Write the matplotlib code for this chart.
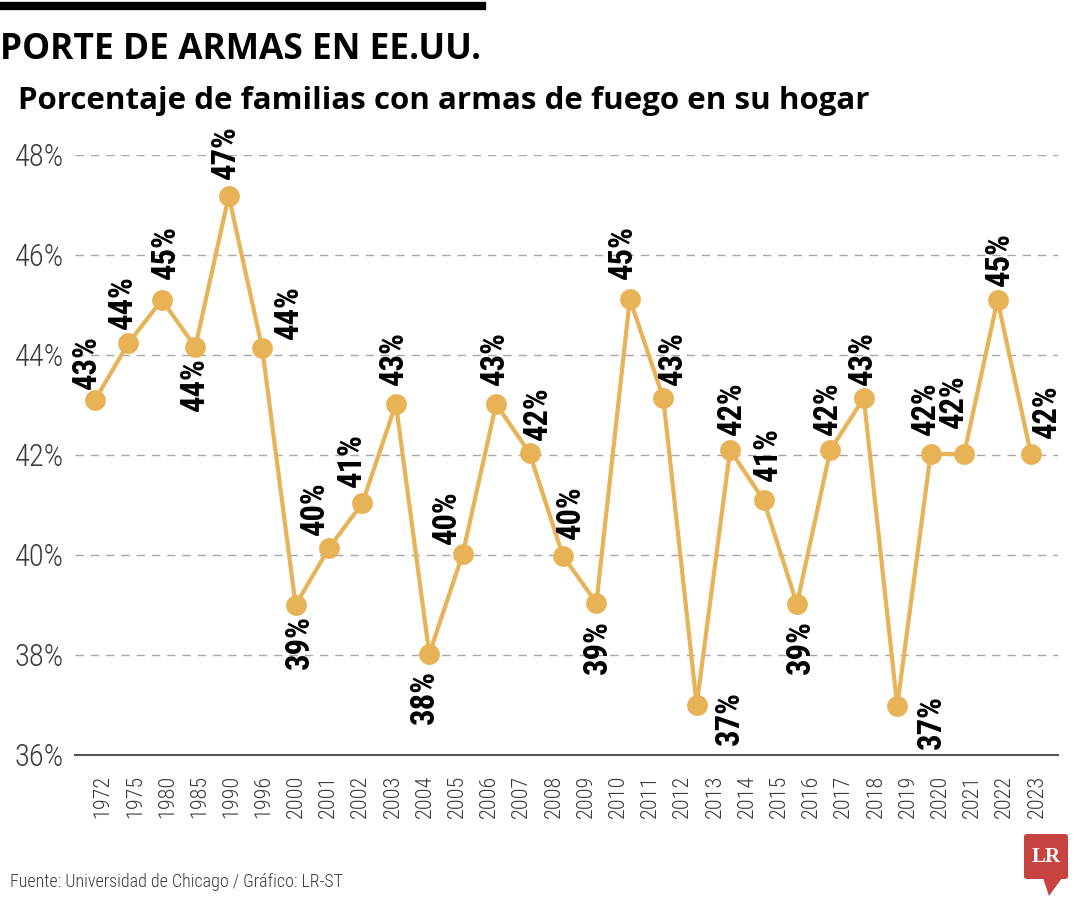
import numpy as np
import matplotlib
matplotlib.use("Agg")
from matplotlib import pyplot as plt
from matplotlib import font_manager
from matplotlib.patches import FancyBboxPatch, Polygon

# data
years = ['1972', '1975', '1980', '1985', '1990', '1996', '2000', '2001', '2002', '2003',
         '2004', '2005', '2006', '2007', '2008', '2009', '2010', '2011', '2012', '2013',
         '2014', '2015', '2016', '2017', '2018', '2019', '2020', '2021', '2022', '2023']
values = [43.1, 44.24, 45.1, 44.16, 47.18, 44.14, 39.0, 40.14, 41.04, 43.02,
          38.02, 40.02, 43.02, 42.04, 39.98, 39.04, 45.12, 43.14, 37.0, 42.1,
          41.1, 39.02, 42.1, 43.14, 36.98, 42.02, 42.02, 45.1, 42.02]
labels = ['43%', '44%', '45%', '44%', '47%', '44%', '39%', '40%', '41%', '43%',
          '38%', '40%', '43%', '42%', '40%', '39%', '45%', '43%', '37%', '42%',
          '41%', '39%', '42%', '43%', '37%', '42%', '42%', '45%', '42%']
y_ticks = [36, 38, 40, 42, 44, 46, 48]

# label offsets from the marker, in pixels (x right, y up)
label_offsets = [(-8, 38), (-6, 41), (4, 48), (0, -37), (-3, 44), (27, 36),
                 (4, -37), (-14, 40), (-11, 43), (-2, 46), (-4, -43), (-16, 37),
                 (-1, 46), (8, 40), (8, 44), (1, -44), (-7, 47), (10, 40),
                 (33, -13), (2, 42), (4, 46), (4, -43), (-3, 42), (-1, 40),
                 (35, -16), (-5, 46), (-10, 53), (2, 41), (16, 43)]

LINE_COLOR = '#E8B257'
GRID_COLOR = '#a8a8a8'

installed = {f.name for f in font_manager.fontManager.ttflist}


def pick(*names):
    for n in names:
        if n in installed:
            return n
    return 'DejaVu Sans'


NARROW = pick('Liberation Sans Narrow', 'DejaVu Sans Condensed', 'Roboto Condensed', 'Liberation Sans')
HEAD = pick('Open Sans', 'Noto Sans', 'Lato')

fig = plt.figure(figsize=(10.8, 9), dpi=100)
ax = fig.add_axes([75 / 1080, 1 - 755 / 900, (1058 - 75) / 1080, 600 / 900])

x = np.arange(len(values))
ax.plot(x, values, color=LINE_COLOR, linewidth=3, marker='o', markersize=15,
        markeredgewidth=0, zorder=3, clip_on=False)

for xi, v, lab, (dx, dy) in zip(x, values, labels, label_offsets):
    ax.annotate(lab, (xi, v), xytext=(dx, dy), textcoords='offset pixels',
                rotation=90, ha='center', va='center', fontsize=23.5,
                fontweight='bold', family=NARROW, color='black', zorder=4,
                annotation_clip=False)

ax.set_xlim(-0.6, 28.81)
ax.set_ylim(36, 48)
ax.set_yticks(y_ticks)
ax.set_yticklabels([f'{t}%' for t in y_ticks], family=NARROW, fontsize=22,
                   color='#3a3a3a', fontweight='light')
for t in y_ticks[1:]:
    ax.axhline(t, color=GRID_COLOR, linestyle=(0, (6, 5)), linewidth=1, zorder=1)

tick_pos = np.linspace(0.24, 28.18, len(years))
ax.set_xticks(tick_pos)
ax.set_xticklabels(years, rotation=90, family=NARROW, fontsize=16, color='#3a3a3a',
                   fontweight='light')
ax.tick_params(axis='both', length=0)
ax.tick_params(axis='x', pad=14)
ax.tick_params(axis='y', pad=8)

for side in ['top', 'right', 'left']:
    ax.spines[side].set_visible(False)
ax.spines['bottom'].set_color('#555555')
ax.spines['bottom'].set_linewidth(1.5)

# header
fig.add_artist(plt.Line2D([0, 482 / 1080], [1 - 6 / 900, 1 - 6 / 900], color='black', linewidth=6))
fig.text(0.0, 1 - 50 / 900, 'PORTE DE ARMAS EN EE.UU.', family=HEAD, fontweight='bold',
         fontsize=25.5, va='center', ha='left')
fig.text(18 / 1080, 1 - 101 / 900, 'Porcentaje de familias con armas de fuego en su hogar',
         family=HEAD, fontweight='bold', fontsize=22.5, va='center', ha='left')

# source
fig.text(10 / 1080, 1 - 882 / 900, 'Fuente: Universidad de Chicago / Gráfico: LR-ST',
         family=NARROW, fontsize=13, va='center', ha='left', color='#3a3a3a',
         fontweight='light')

# LR logo
W, H = 1080, 900
fig.add_artist(FancyBboxPatch((1024 / W, 1 - 879 / H), 44 / W, 45 / H,
                              boxstyle='round,pad=0,rounding_size=0.003',
                              transform=fig.transFigure, facecolor='#C6433F', edgecolor='none'))
fig.add_artist(Polygon([(1043 / W, 1 - 878 / H), (1062 / W, 1 - 878 / H), (1049 / W, 1 - 896 / H)],
                       closed=True, transform=fig.transFigure, facecolor='#C6433F', edgecolor='none'))
fig.text(1046 / W, 1 - 857 / H, 'LR', family='Liberation Serif', fontweight='bold',
         fontsize=15, color='white', ha='center', va='center')

plt.savefig('out.png', dpi=100)
